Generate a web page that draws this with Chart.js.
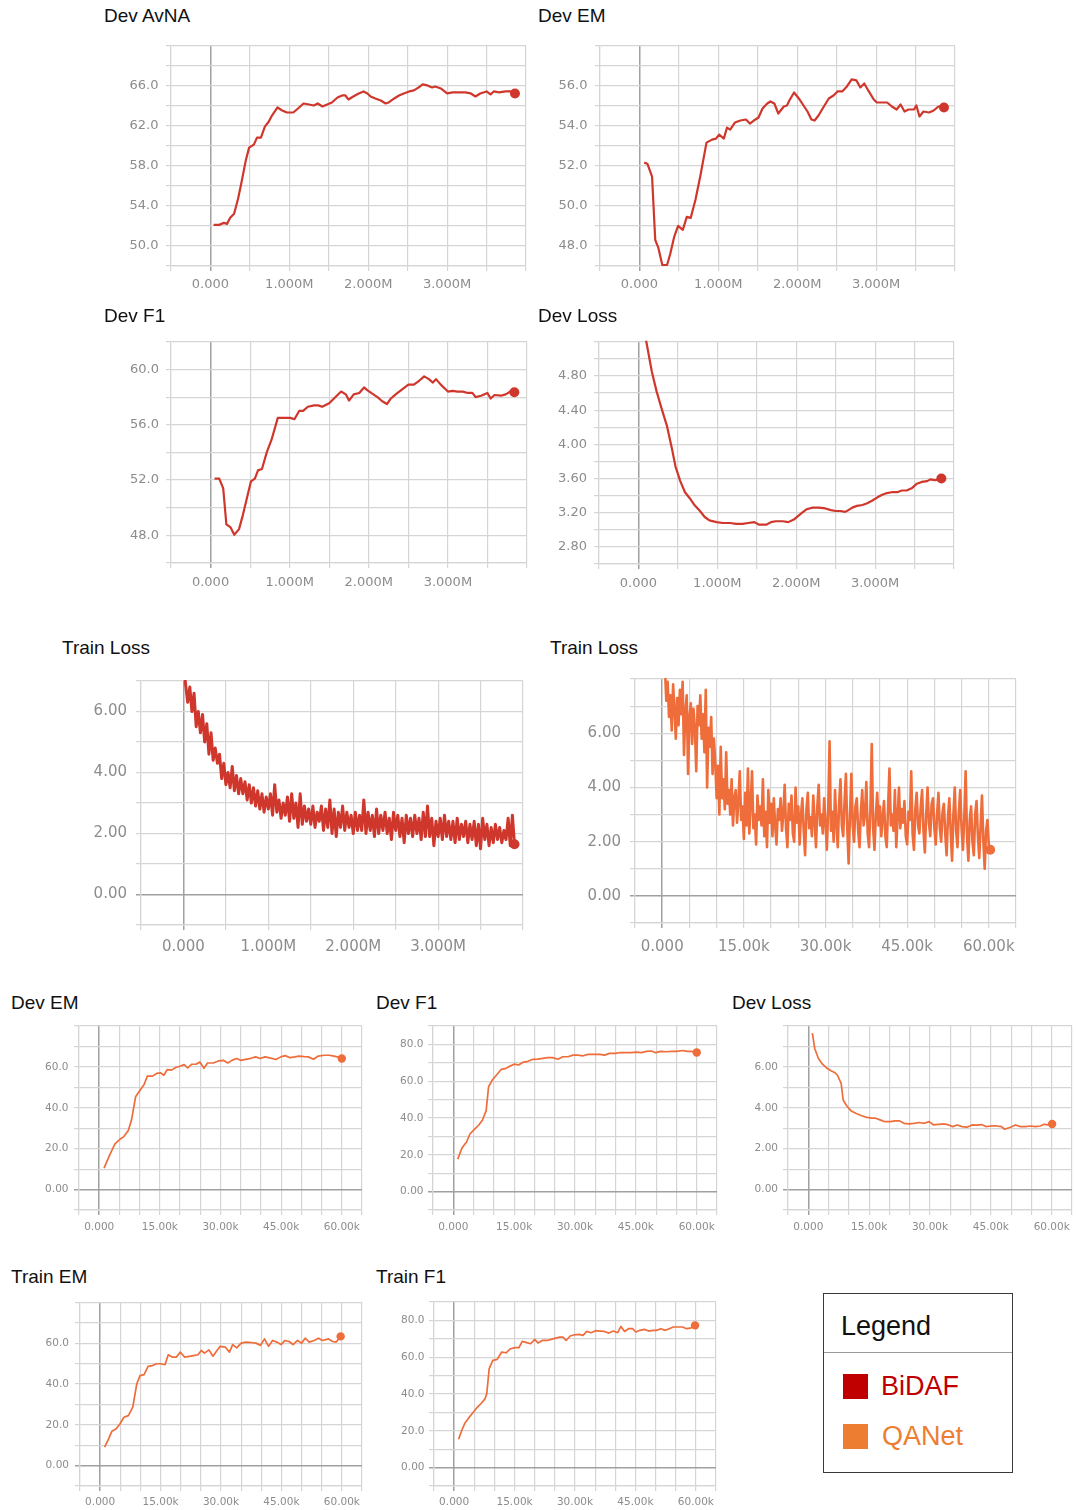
<!DOCTYPE html>
<html>
<head>
<meta charset="utf-8">
<script src="https://cdn.jsdelivr.net/npm/chart.js@4.4.0/dist/chart.umd.min.js"></script>
<style>
  body { margin: 0; background: #fff; width: 1076px; height: 1510px; position: relative; overflow: hidden; font-family: "Liberation Sans", Arial, sans-serif; }
  canvas { position: absolute; }
  .title { position: absolute; font-size: 19px; line-height: 19px; color: #111; white-space: nowrap; }
  .lg { position: absolute; font-size: 27px; line-height: 27px; white-space: nowrap; }
  .sq { position: absolute; width: 25px; height: 25px; }
</style>
</head>
<body>
<div style="position:absolute;left:823px;top:1293px;width:190px;height:180px;border:1.5px solid #3a3a3a;box-sizing:border-box"></div>
<div style="position:absolute;left:824px;top:1352px;width:188px;border-top:1.5px solid #999"></div>
<div class="lg" style="left:841px;top:1313px;color:#111">Legend</div>
<div class="sq" style="left:843px;top:1374px;background:#c00000"></div>
<div class="lg" style="left:881px;top:1373px;color:#c00000">BiDAF</div>
<div class="sq" style="left:843px;top:1424px;background:#ed7d31"></div>
<div class="lg" style="left:882px;top:1423px;color:#ed7d31">QANet</div>
<script>
// BiDAF runs, x in millions of steps
const devAvnaSteps = [0.04,0.11,0.17,0.21,0.25,0.30,0.35,0.39,0.45,0.49,0.55,0.59,0.64,0.69,0.74,0.78,0.85,0.91,0.97,1.05,
  1.11,1.18,1.25,1.31,1.36,1.42,1.48,1.54,1.61,1.67,1.71,1.75,1.81,1.88,1.94,1.99,2.03,2.09,2.16,2.22,
  2.26,2.33,2.39,2.45,2.52,2.58,2.64,2.69,2.75,2.81,2.85,2.92,3.00,3.07,3.15,3.23,3.30,3.36,3.42,3.50,
  3.55,3.59,3.66,3.74,3.81,3.86];
const devAvnaValues = [52.1,52.1,52.3,52.2,52.8,53.2,54.7,56.2,58.6,59.8,60.1,60.8,60.8,61.9,62.4,63.0,63.8,63.5,63.3,63.3,
  63.7,64.2,64.1,64.0,64.2,63.9,64.1,64.3,64.8,65.0,65.0,64.6,64.9,65.2,65.4,65.2,64.9,64.7,64.5,64.2,
  64.3,64.7,65.0,65.2,65.4,65.5,65.8,66.1,66.0,65.8,65.9,65.7,65.2,65.3,65.3,65.3,65.2,64.9,65.2,65.4,
  65.1,65.4,65.3,65.4,65.4,65.2];

const devEmSteps = [0.06,0.10,0.16,0.20,0.24,0.29,0.35,0.39,0.44,0.49,0.55,0.60,0.65,0.71,0.77,0.85,0.92,0.97,1.01,1.07,
  1.11,1.15,1.21,1.28,1.35,1.40,1.45,1.51,1.56,1.62,1.66,1.71,1.76,1.83,1.87,1.90,1.96,2.02,2.08,2.13,
  2.18,2.22,2.27,2.33,2.40,2.46,2.51,2.57,2.63,2.69,2.75,2.80,2.85,2.90,2.97,3.01,3.07,3.14,3.20,3.26,
  3.31,3.36,3.41,3.48,3.51,3.55,3.60,3.67,3.73,3.79,3.86];
const devEmValues = [52.15,52.1,51.45,48.3,47.9,47.05,47.05,47.6,48.45,49.0,48.8,49.45,49.4,50.3,51.45,53.15,53.3,53.35,53.55,53.35,
  53.9,53.8,54.15,54.25,54.3,54.1,54.25,54.4,54.85,55.1,55.2,55.1,54.6,54.95,55.0,55.25,55.65,55.35,55.0,54.7,
  54.3,54.25,54.5,54.9,55.35,55.5,55.7,55.7,55.95,56.3,56.25,55.9,56.1,55.75,55.3,55.15,55.15,55.15,54.95,54.8,
  55.05,54.7,54.8,54.8,55.0,54.45,54.7,54.65,54.75,54.95,54.9];

const devF1Steps = [0.05,0.11,0.16,0.20,0.25,0.30,0.36,0.41,0.46,0.51,0.56,0.60,0.65,0.71,0.77,0.85,0.93,1.01,1.06,1.12,
  1.17,1.23,1.31,1.36,1.41,1.50,1.56,1.65,1.71,1.75,1.81,1.88,1.94,1.98,2.03,2.11,2.17,2.23,2.28,2.34,
  2.43,2.50,2.57,2.64,2.70,2.76,2.81,2.85,2.91,3.00,3.06,3.12,3.19,3.25,3.31,3.35,3.42,3.50,3.54,3.59,
  3.67,3.73,3.79,3.84];
const devF1Values = [52.1,52.1,51.4,48.8,48.6,48.05,48.45,49.5,50.7,51.9,52.1,52.7,52.8,54.0,54.9,56.5,56.5,56.5,56.4,57.0,
  57.0,57.3,57.4,57.4,57.3,57.55,57.9,58.4,58.2,57.75,58.2,58.3,58.7,58.5,58.3,58.0,57.7,57.5,57.9,58.2,
  58.6,58.9,58.9,59.2,59.5,59.3,59.05,59.3,58.9,58.4,58.45,58.4,58.4,58.3,58.3,58.0,58.1,58.3,57.9,58.15,
  58.1,58.2,58.4,58.35];

const devLossSteps = [0.05,0.10,0.17,0.23,0.29,0.36,0.42,0.47,0.53,0.59,0.65,0.71,0.78,0.84,0.90,0.99,1.07,1.16,1.24,1.32,
  1.39,1.47,1.53,1.62,1.68,1.74,1.83,1.90,1.97,2.06,2.13,2.21,2.29,2.37,2.44,2.50,2.56,2.62,2.66,2.71,
  2.77,2.84,2.90,2.96,3.03,3.09,3.15,3.21,3.28,3.34,3.40,3.47,3.53,3.59,3.66,3.70,3.76,3.84];
const devLossValues = [5.45,5.20,4.85,4.62,4.43,4.22,3.97,3.74,3.57,3.44,3.37,3.29,3.22,3.15,3.11,3.09,3.08,3.08,3.07,3.07,
  3.08,3.09,3.06,3.06,3.09,3.10,3.10,3.09,3.12,3.19,3.24,3.26,3.26,3.25,3.23,3.22,3.22,3.21,3.23,3.26,
  3.28,3.29,3.31,3.34,3.38,3.41,3.43,3.44,3.44,3.46,3.46,3.49,3.54,3.56,3.57,3.59,3.58,3.60];

const trainLossBidafSteps = [0.01,0.025,0.05,0.075,0.1,0.125,0.15,0.175,0.2,
  0.225,0.25,0.275,0.3,0.325,0.35,0.375,0.4, 0.425,0.45,0.475,0.5,0.525,0.55,0.575,0.6,
  0.625,0.65,0.675,0.7,0.725,0.75,0.775,0.8, 0.825,0.85,0.875,0.9,0.925,0.95,0.975,1.0,
  1.025,1.05,1.075,1.1,1.125,1.15,1.175,1.2, 1.225,1.25,1.275,1.3,1.325,1.35,1.375,1.4,
  1.425,1.45,1.475,1.5,1.525,1.55,1.575,1.6, 1.625,1.65,1.675,1.7,1.725,1.75,1.775,1.8,
  1.825,1.85,1.875,1.9,1.925,1.95,1.975,2.0, 2.025,2.05,2.075,2.1,2.125,2.15,2.175,2.2,
  2.225,2.25,2.275,2.3,2.325,2.35,2.375,2.4, 2.425,2.45,2.475,2.5,2.525,2.55,2.575,2.6,
  2.625,2.65,2.675,2.7,2.725,2.75,2.775,2.8, 2.825,2.85,2.875,2.9,2.925,2.95,2.975,3.0,
  3.025,3.05,3.075,3.1,3.125,3.15,3.175,3.2, 3.225,3.25,3.275,3.3,3.325,3.35,3.375,3.4,
  3.425,3.45,3.475,3.5,3.525,3.55,3.575,3.6, 3.625,3.65,3.675,3.7,3.725,3.75,3.775,3.8,
  3.825,3.85,3.875,3.9];
const trainLossBidafValues = [7.3,6.9,6.3,6.8,6.0,6.6,5.5,6.0,5.3,
  5.9,5.0,5.6,4.6,5.3,4.4,4.8,4.3, 4.6,3.8,4.3,3.6,4.0,3.5,4.2,3.4,
  3.9,3.3,3.8,3.3,3.7,3.1,3.6,3.0, 3.5,2.9,3.4,2.8,3.3,2.7,3.2,2.8,
  3.3,2.6,3.6,2.7,3.1,2.5,3.0,2.6, 3.2,2.4,3.3,2.5,3.0,2.2,3.3,2.3,
  2.9,2.4,2.8,2.3,2.9,2.2,2.7,2.4, 2.9,2.1,2.8,2.2,3.1,2.0,2.8,1.9,
  2.7,2.2,2.9,2.1,2.7,2.2,2.6,2.0, 2.7,2.1,2.6,2.1,3.1,2.0,2.7,2.1,
  2.6,1.9,2.8,2.0,2.6,2.1,2.7,2.0, 2.5,1.8,2.7,2.1,2.6,1.9,2.5,1.7,
  2.6,2.0,2.5,1.9,2.6,2.0,2.5,1.8, 2.7,1.9,2.9,1.9,2.5,1.6,2.4,1.9,
  2.5,1.8,2.6,1.9,2.4,1.8,2.4,1.7, 2.5,1.8,2.3,1.9,2.4,1.7,2.3,1.8,
  2.4,1.6,2.3,1.5,2.5,1.8,2.3,1.6, 2.2,1.7,2.3,1.8,2.2,1.7,2.1,1.8,
  2.5,1.6,2.6,1.65];

// QANet runs, x in thousands of steps
const trainLossQanetSteps = [
  0.5,0.75,1,1.25,1.5,1.75,2,2.25,2.5,2.75,3,3.25,3.5,3.75,4,4.25,4.5,4.75,5,5.25,
  5.5,5.75,6,6.25,6.5,6.75,7,7.25,7.5,7.75,8,8.25,8.5,8.75,9,9.25,9.5,9.75,10,10.25,
  10.5,10.75,11,11.25,11.5,11.75,12,12.25,12.5,12.75,13,13.25,13.5,13.75,14,14.25,14.5,14.75,15,15.25,
  15.5,15.75,16,16.25,16.5,16.75,17,17.25,17.5,17.75,18,18.25,18.5,18.75,19,19.25,19.5,19.75,20,20.25,
  20.5,20.75,21,21.25,21.5,21.75,22,22.25,22.5,22.75,23,23.25,23.5,23.75,24,24.25,24.5,24.75,25,25.25,
  25.5,25.75,26,26.25,26.5,26.75,27,27.25,27.5,27.75,28,28.25,28.5,28.75,29,29.25,29.5,29.75,30,30.25,
  30.5,30.75,31,31.25,31.5,31.75,32,32.25,32.5,32.75,33,33.25,33.5,33.75,34,34.25,34.5,34.75,35,35.25,
  35.5,35.75,36,36.25,36.5,36.75,37,37.25,37.5,37.75,38,38.25,38.5,38.75,39,39.25,39.5,39.75,40,40.25,
  40.5,40.75,41,41.25,41.5,41.75,42,42.25,42.5,42.75,43,43.25,43.5,43.75,44,44.25,44.5,44.75,45,45.25,
  45.5,45.75,46,46.25,46.5,46.75,47,47.25,47.5,47.75,48,48.25,48.5,48.75,49,49.25,49.5,49.75,50,50.25,
  50.5,50.75,51,51.25,51.5,51.75,52,52.25,52.5,52.75,53,53.25,53.5,53.75,54,54.25,54.5,54.75,55,55.25,
  55.5,55.75,56,56.25,56.5,56.75,57,57.25,57.5,57.75,58,58.25,58.5,58.75,59,59.25,59.5,59.75,60,60.25];
const trainLossQanetValues = [
  8.4,7.2,7.9,6.6,7.4,6.1,7.8,6.9,5.8,7.3,6.3,7.6,6.7,7.9,5.2,6.8,7.4,4.5,6.6,7.1,
  5.6,6.9,6.2,4.6,7.0,6.3,7.4,5.8,6.7,5.3,7.6,4.0,6.2,5.5,6.6,4.5,5.8,4.9,3.6,4.8,
  3.0,5.5,3.6,4.3,3.2,5.3,3.4,3.9,3.0,4.3,2.6,3.6,3.9,2.7,3.5,4.6,2.8,3.3,2.1,3.8,
  2.6,4.7,2.3,3.4,4.6,2.5,3.0,1.9,3.7,2.8,3.3,2.6,4.3,2.2,3.1,1.8,3.9,2.7,3.4,2.2,
  3.6,2.6,1.9,3.2,2.8,3.6,2.4,3.0,4.1,2.5,1.8,3.4,2.8,3.7,2.3,2.0,4.0,2.7,3.3,1.9,
  3.0,3.6,2.4,1.5,3.2,3.8,2.5,2.9,2.2,3.7,2.8,1.8,3.3,4.1,2.6,3.0,2.3,3.6,2.7,1.7,
  3.2,5.7,2.4,3.1,2.0,3.9,2.7,1.8,3.4,4.3,2.6,2.2,3.5,4.5,2.5,1.2,3.0,4.5,2.6,2.0,
  3.3,3.6,2.4,1.8,3.1,3.9,2.6,3.0,4.2,2.3,1.8,3.2,5.6,2.5,1.7,3.0,3.8,2.6,3.3,2.2,
  2.9,3.5,2.2,1.8,3.3,4.7,2.6,3.0,2.4,3.9,1.8,2.9,4.0,2.5,3.2,2.7,3.5,2.2,1.9,3.1,
  2.8,4.6,2.3,1.7,3.2,3.8,2.6,2.3,3.3,3.9,2.4,1.6,3.0,4.0,2.7,2.2,3.4,3.6,2.5,1.9,
  3.0,3.8,2.5,2.0,3.1,3.4,2.3,1.5,2.9,3.6,2.4,1.3,3.0,4.0,2.4,1.8,3.1,3.9,2.5,1.7,
  2.9,4.6,2.2,1.3,2.8,3.3,2.0,1.5,3.0,3.5,2.2,1.4,2.6,3.7,2.0,1.0,2.4,2.8,1.9,1.7];

const qDevEmSteps = [1.2,2.6,3.9,5.1,6.1,7.2,8.0,9.0,10.1,11.1,11.9,13.2,14.2,15.2,16.0,16.8,17.9,18.9,20.0,21.0,
  21.9,22.9,23.9,24.9,25.9,26.8,28.2,29.5,30.7,31.8,32.8,34.0,35.0,36.2,37.5,38.7,39.8,41.0,42.2,43.7,
  44.9,46.0,47.2,48.4,49.4,50.7,51.7,53.0,54.2,55.6,56.9,58.1,58.9,60.0];
const qDevEmValues = [10.5,17.0,22.4,24.6,25.9,28.9,34.1,45.4,48.6,51.4,55.5,55.5,56.8,57.1,55.9,58.7,58.4,59.7,60.3,61.1,
  59.5,61.3,61.3,62.4,59.3,61.9,61.9,62.9,63.2,61.9,63.2,64.1,63.2,63.7,64.2,64.9,64.1,64.9,64.4,63.6,
  64.9,65.5,64.5,64.9,65.3,65.0,64.9,63.7,65.3,65.7,65.7,65.3,64.9,64.1];

const qDevF1Steps = [1.1,2.1,3.3,4.1,5.2,6.3,7.2,8.1,8.7,9.6,10.5,11.8,13.0,14.0,15.1,16.1,17.1,18.4,19.6,20.8,
  22.1,23.3,24.5,25.8,27.0,28.3,29.5,30.7,32.0,33.2,34.6,36.1,37.3,38.5,40.0,41.2,42.5,43.9,45.1,46.4,
  47.6,48.8,49.9,51.1,52.6,53.8,55.0,56.5,57.7,58.7,60.0];
const qDevF1Values = [17.6,23.5,27.1,31.3,33.8,36.2,38.9,44.0,57.0,60.6,63.0,66.4,67.0,68.2,69.3,68.8,70.2,70.8,71.9,72.0,
  72.4,72.8,72.8,71.9,73.3,73.3,74.2,74.2,73.8,74.6,74.6,74.6,74.2,75.1,75.1,75.6,75.5,75.5,75.8,75.5,
  76.2,76.4,75.5,76.2,76.0,76.2,76.2,76.7,76.2,76.2,75.6];

const qDevLossSteps = [1.0,1.6,2.5,3.5,4.5,5.6,6.6,7.2,8.1,8.6,9.5,10.5,11.7,13.0,14.4,15.7,16.6,17.7,18.9,20.2,
  21.4,22.4,23.6,24.9,26.1,27.3,28.6,29.8,30.9,32.1,33.4,34.6,35.6,36.7,37.9,39.1,40.4,41.6,42.7,43.8,
  45.1,46.5,47.6,48.4,49.8,51.1,52.3,53.5,54.8,56.0,57.2,58.1,59.1,60.1];
const qDevLossValues = [7.65,6.89,6.41,6.13,5.95,5.81,5.71,5.59,5.19,4.38,4.09,3.86,3.73,3.62,3.53,3.49,3.49,3.41,3.32,3.32,
  3.36,3.36,3.24,3.21,3.24,3.28,3.24,3.32,3.16,3.19,3.21,3.16,3.08,3.16,3.08,3.05,3.16,3.15,3.18,3.08,
  3.11,3.11,3.08,2.95,3.05,3.16,3.08,3.08,3.11,3.08,3.11,3.19,3.16,3.21];

const qTrainEmSteps = [1.1,2.1,2.9,4.0,4.9,5.9,7.0,8.1,9.1,9.9,10.9,11.9,13.0,14.0,15.0,16.1,16.9,18.0,18.9,19.9,
  21.0,22.1,23.2,24.3,25.1,25.9,27.0,28.0,29.0,29.8,31.1,32.1,32.9,33.9,35.0,36.2,37.5,38.7,39.8,40.8,
  41.8,42.8,43.9,44.9,45.9,46.9,47.9,49.0,50.0,50.9,51.9,53.1,54.2,55.2,56.7,57.7,58.6,59.7];
const qTrainEmValues = [9.0,13.1,16.8,18.0,20.4,23.7,24.5,28.6,40.1,44.1,44.6,48.6,49.0,49.9,49.9,49.4,54.3,53.1,53.1,55.6,
  53.1,53.5,53.9,54.3,56.4,55.1,56.7,53.6,56.4,58.4,58.0,55.6,59.3,57.7,60.0,60.5,60.3,60.0,58.9,62.1,
  58.4,61.3,60.5,59.3,61.3,60.8,59.3,61.3,60.0,62.4,60.5,61.3,62.4,61.3,62.1,60.8,60.5,63.3];

const qTrainF1Steps = [1.1,1.9,2.7,3.8,4.8,5.8,6.8,7.7,8.1,8.7,9.6,10.7,11.8,12.9,14.0,15.1,16.1,16.9,18.0,19.0,
  20.0,20.8,21.9,23.1,24.1,25.2,26.2,27.0,27.8,28.8,29.9,31.0,32.0,32.9,34.0,35.1,36.2,37.3,38.4,39.5,
  40.6,41.4,42.3,43.3,44.3,45.1,46.1,47.2,48.3,49.3,50.2,51.3,52.4,53.4,54.4,55.4,56.7,57.7,58.7,59.8];
const qTrainF1Values = [15.4,20.3,24.3,27.5,30.2,32.9,35.1,37.5,40.2,53.8,58.3,58.8,62.8,62.4,64.6,65.2,65.2,68.6,67.9,67.3,
  69.7,67.7,69.1,69.1,69.7,70.4,70.9,70.9,69.1,71.5,72.2,72.4,71.9,74.0,73.3,74.4,74.2,74.0,73.1,74.2,
  73.3,76.7,74.0,75.5,75.5,73.7,74.6,75.1,74.2,74.6,74.6,75.5,74.6,75.5,76.4,76.4,76.4,75.5,75.8,77.3];

const BIDAF = '#d0372c';
const QANET = '#ee6d3a';
const GRID = '#d5d5d5';
const ZERO = '#a0a0a0';
const TICK = '#8c8c8c';

// x axes: min, max, grid step, label every, unit
const xMillions = {min: -0.5, max: 4, step: 0.5, every: 1, unit: 'M'};
const xThousands = {min: -5, max: 65, step: 5, every: 15, unit: 'k'};

const panels = [
  {title: 'Dev AvNA', tx: 104, ty: 6, box: [171, 42, 526, 266], xr: xMillions,
   yr: {min: 48, max: 70, step: 2, base: 50, every: 4}, steps: devAvnaSteps, values: devAvnaValues,
   color: BIDAF, fs: 13, ypad: 7.5, xpad: 6, yw: 60, xh: 40, lw: 2.2, dot: 5},
  {title: 'Dev EM', tx: 538, ty: 6, box: [600, 42, 955, 266], xr: xMillions,
   yr: {min: 47, max: 58, step: 1, base: 48, every: 2}, steps: devEmSteps, values: devEmValues,
   color: BIDAF, fs: 13, ypad: 7.5, xpad: 6, yw: 60, xh: 40, lw: 2.2, dot: 5},
  {title: 'Dev F1', tx: 104, ty: 306, box: [171, 339, 527, 563], xr: xMillions,
   yr: {min: 46, max: 62, step: 2, base: 48, every: 4}, steps: devF1Steps, values: devF1Values,
   color: BIDAF, fs: 13, ypad: 7, xpad: 7, yw: 60, xh: 40, lw: 2.2, dot: 5},
  {title: 'Dev Loss', tx: 538, ty: 306, box: [599, 339, 954, 564], xr: xMillions,
   yr: {min: 2.6, max: 5.2, step: 0.2, base: 2.8, every: 0.4}, steps: devLossSteps, values: devLossValues,
   color: BIDAF, fs: 13, ypad: 7, xpad: 7, yw: 60, xh: 40, lw: 2.2, dot: 5},
  {title: 'Train Loss', tx: 62, ty: 638, box: [141, 675, 523, 925], xr: xMillions,
   yr: {min: -1, max: 7, step: 1, base: 0, every: 2}, steps: trainLossBidafSteps, values: trainLossBidafValues,
   color: BIDAF, fs: 15, ypad: 9, xpad: 8, yw: 70, xh: 40, lw: 3, dot: 5},
  {title: 'Train Loss', tx: 550, ty: 638, box: [635, 673, 1016, 923], xr: xThousands,
   yr: {min: -1, max: 8, step: 1, base: 0, every: 2}, steps: trainLossQanetSteps, values: trainLossQanetValues,
   color: QANET, fs: 15, ypad: 9, xpad: 10, yw: 70, xh: 40, lw: 2.6, dot: 5},
  {title: 'Dev EM', tx: 11, ty: 993, box: [79, 1026, 362, 1210], xr: xThousands,
   yr: {min: -10, max: 80, step: 10, base: 0, every: 20}, steps: qDevEmSteps, values: qDevEmValues,
   color: QANET, fs: 10.5, ypad: 5.5, xpad: 6, yw: 55, xh: 30, lw: 1.7, dot: 4.2},
  {title: 'Dev F1', tx: 376, ty: 993, box: [433, 1026, 717, 1210], xr: xThousands,
   yr: {min: -10, max: 90, step: 10, base: 0, every: 20}, steps: qDevF1Steps, values: qDevF1Values,
   color: QANET, fs: 10.5, ypad: 4.5, xpad: 6, yw: 55, xh: 30, lw: 1.7, dot: 4.2},
  {title: 'Dev Loss', tx: 732, ty: 993, box: [788, 1026, 1072, 1210], xr: xThousands,
   yr: {min: -1, max: 8, step: 1, base: 0, every: 2}, steps: qDevLossSteps, values: qDevLossValues,
   color: QANET, fs: 10.5, ypad: 5, xpad: 6, yw: 55, xh: 30, lw: 1.7, dot: 4.2},
  {title: 'Train EM', tx: 11, ty: 1267, box: [80, 1302, 362, 1486], xr: xThousands,
   yr: {min: -10, max: 80, step: 10, base: 0, every: 20}, steps: qTrainEmSteps, values: qTrainEmValues,
   color: QANET, fs: 10.5, ypad: 6, xpad: 5, yw: 55, xh: 24, lw: 1.7, dot: 4.2},
  {title: 'Train F1', tx: 376, ty: 1267, box: [434, 1302, 716, 1486], xr: xThousands,
   yr: {min: -10, max: 90, step: 10, base: 0, every: 20}, steps: qTrainF1Steps, values: qTrainF1Values,
   color: QANET, fs: 10.5, ypad: 4.5, xpad: 5, yw: 55, xh: 24, lw: 1.7, dot: 4.2}
];

function isZero(v) {
  return Math.abs(v) < 1e-9;
}

function onStep(v, base, every) {
  const q = (v - base) / every;
  return Math.abs(q - Math.round(q)) < 1e-6;
}

function fmtY(v) {
  return isZero(v) ? '0.00' : Number(v).toPrecision(3);
}

function fmtX(v, unit) {
  if (isZero(v)) return '0.000';
  return unit === 'M' ? v.toFixed(3) + 'M' : v.toFixed(2) + 'k';
}

function drawPanel(p) {
  const [l, t, r, b] = p.box;
  // right padding must cover the x tick padding chart.js reserves at the edge
  const padTop = 12, padRight = 12;
  const left = l - p.yw, top = t - padTop;
  const w = r + padRight - left, h = b + p.xh - top;

  const title = document.createElement('div');
  title.className = 'title';
  title.style.left = p.tx + 'px';
  title.style.top = p.ty + 'px';
  title.textContent = p.title;
  document.body.appendChild(title);

  const canvas = document.createElement('canvas');
  canvas.width = w;
  canvas.height = h;
  canvas.style.cssText = `left:${left}px;top:${top}px;width:${w}px;height:${h}px`;
  document.body.appendChild(canvas);

  const gridColor = c => (c.tick && isZero(c.tick.value)) ? ZERO : GRID;
  const gridWidth = c => (c.tick && isZero(c.tick.value)) ? 1.5 : 1.2;
  const tickFont = {family: 'DejaVu Sans', size: p.fs};
  const last = p.steps.length - 1;

  new Chart(canvas, {
    type: 'line',
    data: {
      datasets: [{
        data: p.steps.map((s, i) => ({x: s, y: p.values[i]})),
        borderColor: p.color,
        backgroundColor: p.color,
        borderWidth: p.lw,
        borderJoinStyle: 'round',
        pointRadius: c => c.dataIndex === last ? p.dot : 0,
        pointBorderWidth: 0,
        pointHoverRadius: 0,
        tension: 0,
        clip: 1
      }]
    },
    options: {
      responsive: false,
      animation: false,
      events: [],
      layout: {padding: {top: padTop, right: padRight, left: 0, bottom: 0}},
      plugins: {legend: {display: false}, tooltip: {enabled: false}},
      scales: {
        x: {
          type: 'linear', min: p.xr.min, max: p.xr.max,
          afterFit: s => { s.height = p.xh; },
          grid: {color: gridColor, lineWidth: gridWidth, tickLength: 5},
          border: {color: GRID, width: 1.2},
          ticks: {
            stepSize: p.xr.step, autoSkip: false, maxRotation: 0, padding: p.xpad,
            color: TICK, font: tickFont,
            callback: v => (v > -1e-9 && v < p.xr.max - 1e-9 && onStep(v, 0, p.xr.every)) ? fmtX(v, p.xr.unit) : ''
          }
        },
        y: {
          type: 'linear', min: p.yr.min, max: p.yr.max,
          afterFit: s => { s.width = p.yw; },
          grid: {color: gridColor, lineWidth: gridWidth, tickLength: 5},
          border: {color: GRID, width: 1.2},
          ticks: {
            stepSize: p.yr.step, autoSkip: false, padding: p.ypad,
            color: TICK, font: tickFont,
            callback: v => (v < p.yr.max - 1e-9 && onStep(v, p.yr.base, p.yr.every)) ? fmtY(v) : ''
          }
        }
      }
    }
  });
}

panels.forEach(drawPanel);
</script>
</body>
</html>
